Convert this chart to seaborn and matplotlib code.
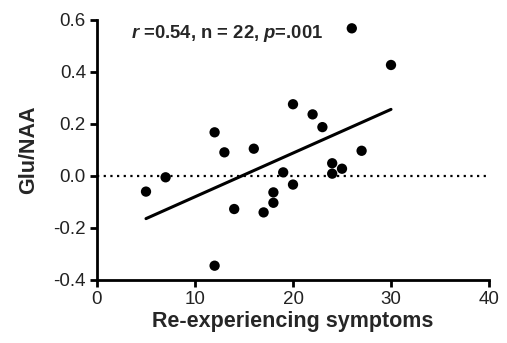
import matplotlib
matplotlib.use("Agg")
import matplotlib.pyplot as plt
import seaborn as sns
import pandas as pd
from matplotlib.ticker import FormatStrFormatter

symptoms = [5, 7, 12, 12, 13, 14, 16, 17, 18, 18, 19, 20, 20, 22, 23, 24, 24, 25, 26, 27, 30]
glu_naa = [-0.06, -0.005, 0.168, -0.345, 0.091, -0.127, 0.105, -0.14, -0.063, -0.103,
           0.014, -0.033, 0.276, 0.237, 0.188, 0.049, 0.009, 0.028, 0.568, 0.097, 0.427]
x_ticks = [0, 10, 20, 30, 40]
y_ticks = [-0.4, -0.2, 0.0, 0.2, 0.4, 0.6]
annotation = "$r$ =0.54, n = 22, $p$=.001"

df = pd.DataFrame({"Re-experiencing symptoms": symptoms, "Glu/NAA": glu_naa})

sns.set_theme(style="ticks")
plt.rcParams["font.family"] = ["Liberation Sans", "DejaVu Sans"]
plt.rcParams["axes.unicode_minus"] = False
plt.rcParams["mathtext.fontset"] = "custom"
plt.rcParams["mathtext.it"] = "Liberation Sans:italic:bold"
plt.rcParams["mathtext.rm"] = "Liberation Sans:bold"

fig = plt.figure(figsize=(5.07, 3.43), dpi=100)
ax = fig.add_axes([97/507, 1-280/343, (489-97)/507, (280-20)/343])

ax.axhline(0, color="black", linestyle=(0, (1, 2)), linewidth=1.6, zorder=1)
sns.regplot(data=df, x="Re-experiencing symptoms", y="Glu/NAA", ax=ax, ci=None,
            scatter_kws=dict(s=55, color="black", edgecolor="none", alpha=1, zorder=3),
            line_kws=dict(color="black", linewidth=2.2, zorder=2))

ax.set_xlim(0, 40)
ax.set_ylim(-0.4, 0.6)
ax.set_xticks(x_ticks)
ax.set_yticks(y_ticks)
ax.yaxis.set_major_formatter(FormatStrFormatter("%.1f"))
ax.tick_params(axis="both", labelsize=13.5, width=2, length=5, pad=3, color="black", labelcolor="#222222")
for s in ["left", "bottom"]:
    ax.spines[s].set_linewidth(2)
    ax.spines[s].set_color("black")
sns.despine(ax=ax)
ax.set_xlabel("Re-experiencing symptoms", fontsize=15.5, fontweight="bold", labelpad=2)
ax.set_ylabel("Glu/NAA", fontsize=15.5, fontweight="bold", labelpad=10)
ax.text(3.5, 0.55, annotation, fontsize=13.3, fontweight="bold", va="center", ha="left")

fig.savefig("out.png", dpi=100)
